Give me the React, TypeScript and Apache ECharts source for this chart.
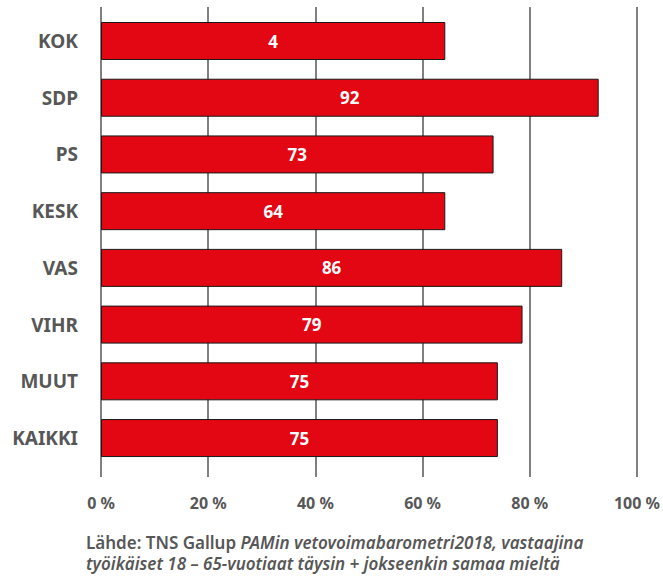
import React, { useEffect, useRef } from "react";
import * as echarts from "echarts";

const categories = ["KOK", "SDP", "PS", "KESK", "VAS", "VIHR", "MUUT", "KAIKKI"];
const values = [64.2, 92.8, 73.2, 64.2, 86, 78.6, 74, 74];
const barLabels = ["4", "92", "73", "64", "86", "79", "75", "75"];
const xTicks = { min: 0, max: 100, interval: 20 };
const sourceBold = "Lähde: TNS Gallup ";
const sourceItalic1 = "PAMin vetovoimabarometri2018, vastaajina";
const sourceItalic2 = "työikäiset 18 – 65-vuotiaat täysin + jokseenkin samaa mieltä";

const FONT = "'Noto Sans', sans-serif";
const GREY = "#575757";

export default function App() {
  const ref = useRef<HTMLDivElement>(null);
  useEffect(() => {
    if (!ref.current) return;
    const chart = echarts.init(ref.current, null, { renderer: "svg" });
    chart.setOption({
      animation: false,
      backgroundColor: "#ffffff",
      textStyle: { fontFamily: FONT },
      grid: [
        { left: 101, right: 25.7, top: 7, bottom: 100 },
        { left: 101, right: 25.7, top: 12.65, bottom: 110.6 },
      ],
      xAxis: [
        {
          gridIndex: 0,
          type: "value",
          ...xTicks,
          axisLine: { show: false },
          axisTick: { show: false },
          splitLine: { show: true, lineStyle: { color: "#808080", width: 2 } },
          axisLabel: {
            formatter: "{value} %",
            color: GREY,
            fontFamily: FONT,
            fontWeight: "bold",
            fontSize: 16,
            margin: 18,
          },
        },
        {
          gridIndex: 1,
          type: "value",
          ...xTicks,
          show: false,
        },
      ],
      yAxis: [
        { gridIndex: 0, type: "value", show: false },
        {
          gridIndex: 1,
          type: "category",
          data: categories,
          inverse: true,
          axisLine: { show: false },
          axisTick: { show: false },
          splitLine: { show: false },
          axisLabel: {
            color: GREY,
            fontFamily: FONT,
            fontWeight: "bold",
            fontSize: 19,
            margin: 23,
          },
        },
      ],
      series: [
        {
          type: "bar",
          xAxisIndex: 1,
          yAxisIndex: 1,
          data: values,
          barWidth: 38,
          itemStyle: { color: "#e30613", borderColor: "#1a1a1a", borderWidth: 1 },
          label: {
            show: true,
            position: "inside",
            color: "#ffffff",
            fontFamily: FONT,
            fontWeight: "bold",
            fontSize: 17,
            formatter: (p: any) => barLabels[p.dataIndex],
          },
        },
      ],
      graphic: [
        {
          type: "text",
          left: 86,
          top: 534,
          style: {
            text:
              "{b|" + sourceBold + "}{i|" + sourceItalic1 + "}\n{i|" + sourceItalic2 + "}",
            rich: {
              b: { fontFamily: FONT, fontWeight: 600, fontSize: 17, fill: GREY, lineHeight: 21 },
              i: {
                fontFamily: FONT,
                fontWeight: 600,
                fontStyle: "italic",
                fontSize: 17,
                fill: GREY,
                lineHeight: 21,
              },
            },
          },
        },
      ],
    });
    return () => chart.dispose();
  }, []);
  return (
    <div
      ref={ref}
      style={{ position: "fixed", left: 0, top: 0, width: 663, height: 577 }}
    />
  );
}
